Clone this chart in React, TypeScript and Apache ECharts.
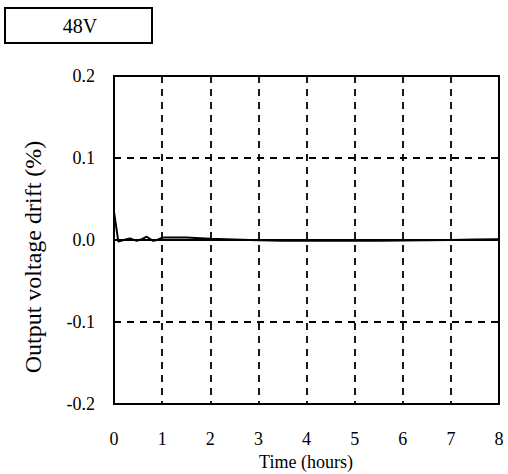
import React, { useEffect, useRef } from "react";
import * as echarts from "echarts";

const timeHours = [0, 0.09, 0.2, 0.33, 0.47, 0.58, 0.68, 0.81, 0.9, 1.0, 1.5, 2.0, 2.5, 3.0, 3.5, 4.0, 4.5, 5.0, 5.5, 6.0, 6.5, 7.0, 7.5, 8.0];
const driftPct = [0.0345, -0.002, 0.0, 0.002, -0.001, 0.001, 0.004, -0.001, 0.0, 0.003, 0.003, 0.0016, 0.0006, -0.0004, -0.0008, -0.001, -0.001, -0.001, -0.0008, -0.0005, -0.0003, 0.0, 0.0005, 0.001];
const yTicks = [-0.2, -0.1, 0.0, 0.1, 0.2];
const xTicks = [0, 1, 2, 3, 4, 5, 6, 7, 8];
const legendLabel = "48V";
const xTitle = "Time (hours)";
const yTitle = "Output voltage drift (%)";

const FONT = "'Liberation Serif', 'Times New Roman', serif";

export default function App() {
  const ref = useRef<HTMLDivElement>(null);
  useEffect(() => {
    if (!ref.current) return;
    const chart = echarts.init(ref.current, null, { renderer: "svg" });
    chart.setOption({
      animation: false,
      backgroundColor: "#ffffff",
      grid: { left: 114, top: 76, right: 9, bottom: 70, containLabel: false },
      xAxis: {
        type: "value",
        min: xTicks[0],
        max: xTicks[xTicks.length - 1],
        interval: 1,
        axisLine: { show: true, lineStyle: { color: "#000", width: 2 } },
        axisTick: { show: false },
        axisLabel: { color: "#000", fontFamily: FONT, fontSize: 18, margin: 26 },
        splitLine: { show: true, lineStyle: { color: "#000", width: 1.8, type: [7, 6] } },
      },
      yAxis: {
        type: "value",
        min: yTicks[0],
        max: yTicks[yTicks.length - 1],
        interval: 0.1,
        axisLine: { show: true, lineStyle: { color: "#000", width: 2 } },
        axisTick: { show: false },
        axisLabel: {
          color: "#000",
          fontFamily: FONT,
          fontSize: 18,
          margin: 19,
          formatter: (v: number) => v.toFixed(1),
        },
        splitLine: { show: true, lineStyle: { color: "#000", width: 1.8, type: [7, 6] } },
      },
      series: [
        {
          type: "line",
          data: timeHours.map((t, i) => [t, driftPct[i]]),
          showSymbol: false,
          symbol: "none",
          lineStyle: { color: "#000", width: 2 },
          z: 5,
        },
      ],
      graphic: [
        {
          type: "rect",
          shape: { x: 5, y: 8, width: 147, height: 35 },
          style: { fill: "#fff", stroke: "#000", lineWidth: 2 },
        },
        {
          type: "text",
          x: 80,
          y: 26,
          style: {
            text: legendLabel,
            fill: "#000",
            font: `20px ${FONT}`,
            textAlign: "center",
            textVerticalAlign: "middle",
          },
        },
        {
          type: "text",
          x: 306,
          y: 462,
          style: {
            text: xTitle,
            fill: "#000",
            font: `18px ${FONT}`,
            textAlign: "center",
            textVerticalAlign: "middle",
          },
        },
        {
          type: "text",
          x: 33,
          y: 257,
          rotation: Math.PI / 2,
          style: {
            text: yTitle,
            fill: "#000",
            font: `24px ${FONT}`,
            textAlign: "center",
            textVerticalAlign: "middle",
          },
        },
        {
          type: "rect",
          shape: { x: 114, y: 76, width: 385, height: 328 },
          style: { fill: "none", stroke: "#000", lineWidth: 2 },
          z: 10,
        },
      ],
    });
    return () => chart.dispose();
  }, []);
  return <div ref={ref} style={{ width: 508, height: 474, position: "absolute", left: 0, top: 0 }} />;
}
